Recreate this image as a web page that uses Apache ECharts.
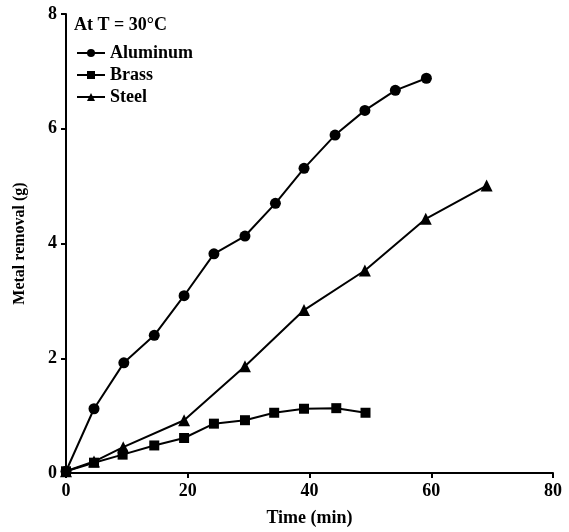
<!DOCTYPE html>
<html>
<head>
<meta charset="utf-8">
<script src="https://cdn.jsdelivr.net/npm/echarts@6/dist/echarts.min.js"></script>
<style>
  html, body { margin: 0; padding: 0; background: #fff; }
  #chart { width: 569px; height: 532px; }
</style>
</head>
<body>
<div id="chart"></div>
<script>
// time (min), per series
const aluminumTime = [0, 4.6, 9.5, 14.5, 19.4, 24.3, 29.4, 34.4, 39.1, 44.2, 49.1, 54.1, 59.2];
const aluminumMass = [0.03, 1.12, 1.92, 2.40, 3.09, 3.82, 4.13, 4.70, 5.31, 5.89, 6.32, 6.67, 6.88];

const brassTime = [0, 4.6, 9.3, 14.5, 19.4, 24.3, 29.4, 34.2, 39.1, 44.4, 49.2];
const brassMass = [0.03, 0.18, 0.32, 0.48, 0.61, 0.86, 0.92, 1.05, 1.12, 1.13, 1.05];

const steelTime = [0, 4.6, 9.4, 19.4, 29.4, 39.1, 49.1, 59.1, 69.1];
const steelMass = [0.03, 0.2, 0.45, 0.92, 1.86, 2.84, 3.53, 4.43, 5.01];

const xTicks = [0, 20, 40, 60, 80];
const yTicks = [0, 2, 4, 6, 8];

const font = 'Liberation Serif';
const pairs = (xs, ys) => xs.map((x, i) => [x, ys[i]]);

const chart = echarts.init(document.getElementById('chart'));

const mkSeries = (name, symbol, size, data) => ({
    name: name,
    type: 'line',
    data: data,
    symbol: symbol,
    symbolSize: size,
    showAllSymbol: true,
    lineStyle: { color: '#000', width: 2 },
    itemStyle: { color: '#000' },
    emphasis: { disabled: true },
    animation: false
});

chart.setOption({
    animation: false,
    grid: { left: 66, right: 16, top: 14, bottom: 59 },
    title: {
        text: 'At T = 30°C',
        left: 69, top: 11,
        textStyle: { fontFamily: font, fontWeight: 'bold', fontSize: 18, color: '#000' }
    },
    legend: {
        orient: 'vertical',
        left: 71, top: 39,
        itemWidth: 28, itemHeight: 10, itemGap: 4,
        textStyle: { fontFamily: font, fontWeight: 'bold', fontSize: 18, color: '#000' },
        data: ['Aluminum', 'Brass', 'Steel']
    },
    xAxis: {
        type: 'value',
        min: 0, max: 80, interval: 20,
        name: 'Time (min)',
        nameLocation: 'middle',
        nameGap: 36,
        nameTextStyle: { fontFamily: font, fontWeight: 'bold', fontSize: 18, color: '#000' },
        axisLine: { lineStyle: { color: '#000', width: 2 } },
        axisTick: { length: 5, lineStyle: { color: '#000', width: 2 } },
        axisLabel: {
            fontFamily: font, fontWeight: 'bold', fontSize: 18, color: '#000', margin: 9,
            formatter: v => xTicks.includes(v) ? String(v) : ''
        },
        splitLine: { show: false }
    },
    yAxis: {
        type: 'value',
        min: 0, max: 8, interval: 2,
        name: 'Metal removal (g)',
        nameLocation: 'middle',
        nameGap: 38,
        nameTextStyle: { fontFamily: font, fontWeight: 'bold', fontSize: 16, color: '#000' },
        axisLine: { lineStyle: { color: '#000', width: 2 } },
        axisTick: { length: 5, lineStyle: { color: '#000', width: 2 } },
        axisLabel: {
            fontFamily: font, fontWeight: 'bold', fontSize: 18, color: '#000', margin: 9,
            formatter: v => yTicks.includes(v) ? String(v) : ''
        },
        splitLine: { show: false }
    },
    series: [
        mkSeries('Aluminum', 'circle', 11, pairs(aluminumTime, aluminumMass)),
        mkSeries('Brass', 'rect', 10, pairs(brassTime, brassMass)),
        mkSeries('Steel', 'triangle', 12, pairs(steelTime, steelMass))
    ]
});
</script>
</body>
</html>
